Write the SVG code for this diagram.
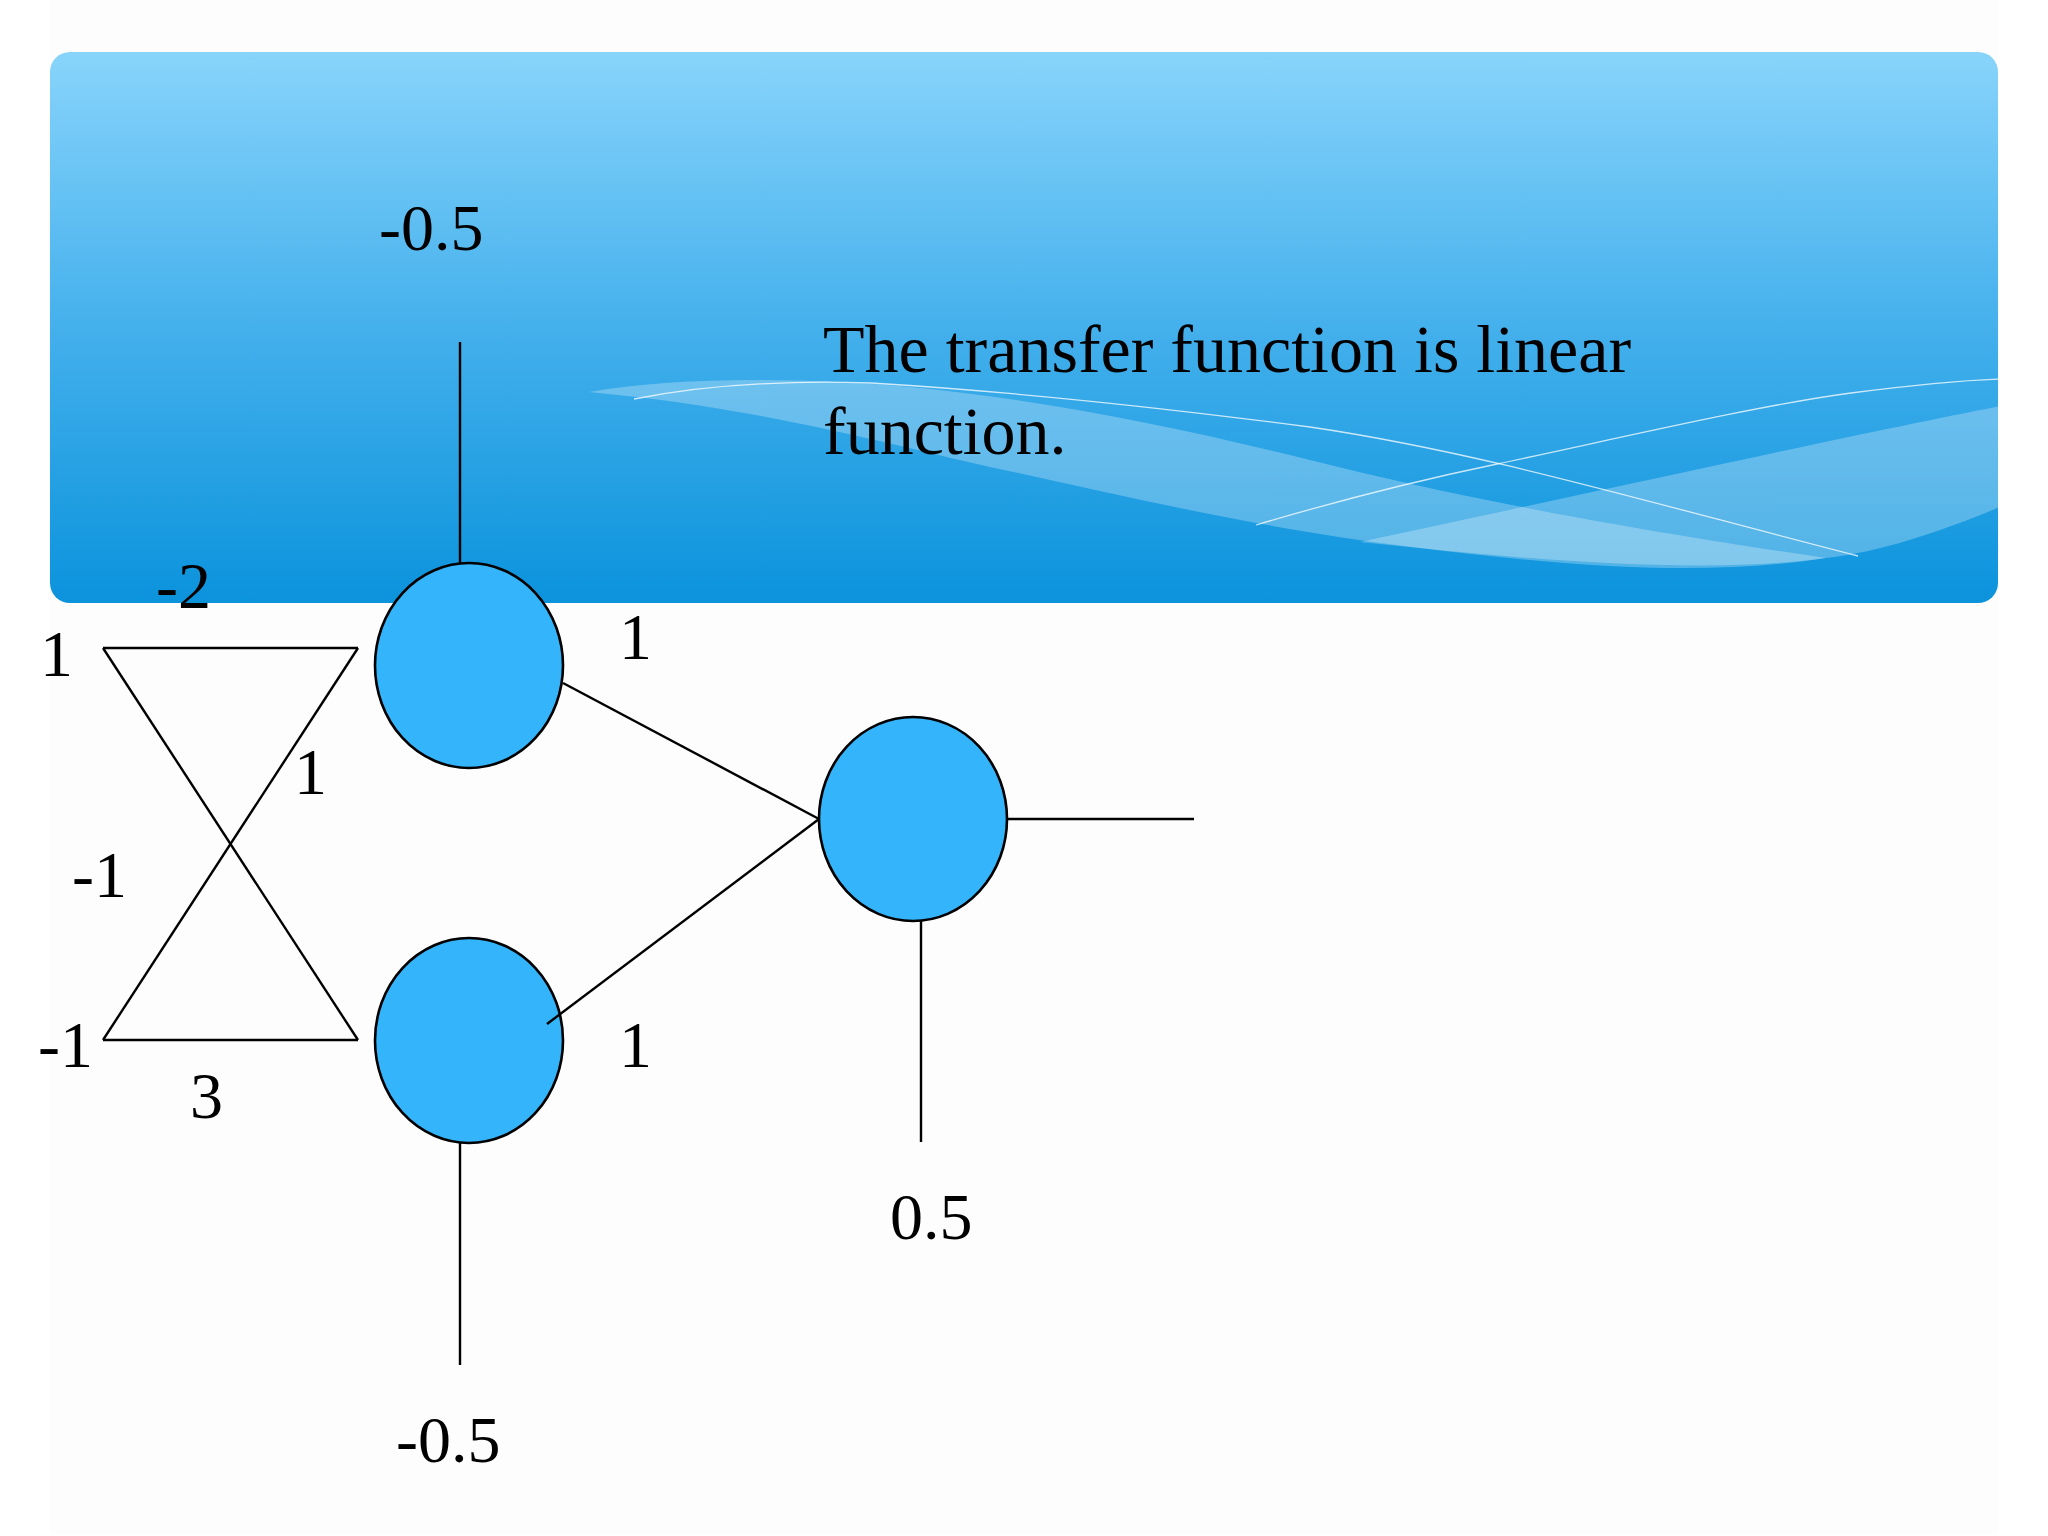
<svg xmlns="http://www.w3.org/2000/svg" width="2048" height="1536" viewBox="0 0 2048 1536">
  <defs>
    <linearGradient id="bannerGrad" x1="0" y1="0" x2="0" y2="1">
      <stop offset="0" stop-color="#88D4FB"/>
      <stop offset="0.5" stop-color="#44B0EC"/>
      <stop offset="1" stop-color="#0B93DC"/>
    </linearGradient>
    <clipPath id="bannerClip">
      <rect x="50" y="52" width="1948" height="551" rx="20" ry="20"/>
    </clipPath>
  </defs>
  <style>
    .lbl { font-family: "Liberation Serif", "Times New Roman", serif; font-size: 66px; fill: #000; }
    .title { font-family: "Liberation Serif", "Times New Roman", serif; font-size: 68px; fill: #000; }
    .edge { stroke: #000; stroke-width: 2.4; fill: none; }
    .neuron { fill: #34B5FB; stroke: #000; stroke-width: 2.6; }
    .wave { fill: #FFFFFF; fill-opacity: 0.27; }
    .thin { stroke: #FFFFFF; stroke-opacity: 0.75; stroke-width: 1.3; fill: none; }
  </style>

  <rect x="0" y="0" width="2048" height="1536" fill="#FFFFFF"/>
  <rect x="50" y="0" width="1948" height="1534" fill="#FDFDFD"/>

  <g id="banner">
    <rect x="50" y="52" width="1948" height="551" rx="20" ry="20" fill="url(#bannerGrad)"/>
    <g clip-path="url(#bannerClip)">
      <path class="wave" d="M589,392 C680,376 800,378 900,386 C1050,400 1180,428 1310,460 C1450,495 1600,525 1826,558 C1700,578 1560,565 1420,548 C1250,528 1100,490 990,467 C880,442 760,408 589,392 Z"/>
      <path class="wave" d="M1360,542 C1500,512 1620,486 1760,456 C1860,434 1940,418 2000,406 L2000,507 C1940,532 1880,552 1826,558 C1700,575 1530,560 1360,542 Z"/>
      <path class="thin" d="M634,399 C700,386 780,380 871,383 C1020,392 1180,410 1310,427 C1480,452 1640,500 1858,556"/>
      <path class="thin" d="M1256,525 C1340,500 1420,480 1497,464 C1620,438 1760,405 1851,393 C1920,384 1970,380 2000,379"/>
    </g>
  </g>

  <g id="connectors">
    <line class="edge" x1="460" y1="342" x2="460" y2="563"/>
    <line class="edge" x1="103" y1="648" x2="358" y2="648"/>
    <line class="edge" x1="103" y1="1040" x2="358" y2="1040"/>
    <line class="edge" x1="103" y1="648" x2="358" y2="1040"/>
    <line class="edge" x1="358" y1="648" x2="103" y2="1040"/>
    <line class="edge" x1="563" y1="683" x2="819" y2="819"/>
    <line class="edge" x1="1007" y1="819" x2="1194" y2="819"/>
    <line class="edge" x1="921" y1="921" x2="921" y2="1142"/>
    <line class="edge" x1="460" y1="1143" x2="460" y2="1365"/>
  </g>

  <g id="node-hidden-top">
    <ellipse class="neuron" cx="469" cy="665.5" rx="94" ry="102.5"/>
  </g>
  <g id="node-hidden-bottom">
    <ellipse class="neuron" cx="469" cy="1040.5" rx="94" ry="102.5"/>
  </g>
  <g id="node-output">
    <ellipse class="neuron" cx="913" cy="819" rx="94" ry="102"/>
  </g>

  <g id="connector-overlay">
    <line class="edge" x1="547" y1="1024" x2="819" y2="819"/>
  </g>

  <g id="labels">
    <text class="lbl" x="379" y="250">-0.5</text>
    <text class="title" x="823" y="372">The transfer function is linear</text>
    <text class="title" x="823" y="454">function.</text>
    <text class="lbl" x="156" y="608">-2</text>
    <text class="lbl" x="40" y="676">1</text>
    <text class="lbl" x="294" y="794">1</text>
    <text class="lbl" x="72" y="897">-1</text>
    <text class="lbl" x="38" y="1067">-1</text>
    <text class="lbl" x="190" y="1118">3</text>
    <text class="lbl" x="619" y="659">1</text>
    <text class="lbl" x="619" y="1067">1</text>
    <text class="lbl" x="890" y="1239">0.5</text>
    <text class="lbl" x="396" y="1462">-0.5</text>
  </g>
</svg>
